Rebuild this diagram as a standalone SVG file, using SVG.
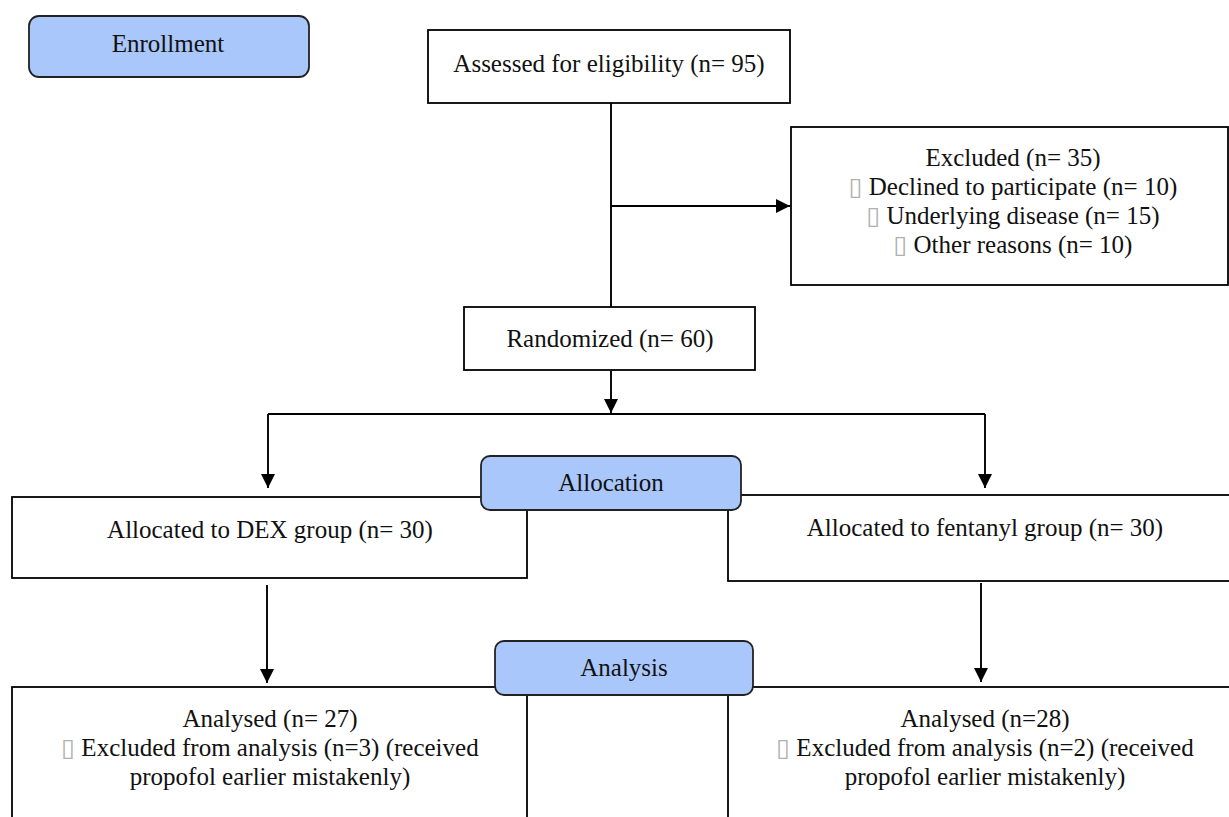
<svg xmlns="http://www.w3.org/2000/svg" width="1229" height="817" viewBox="0 0 1229 817">
<style>
.box{fill:#fff;stroke:#000;stroke-width:1.8}
.stage{fill:#a9c7fb;stroke:#222;stroke-width:1.8}
.t{font-family:"Liberation Serif","Times New Roman",serif;font-size:25px;fill:#111;text-anchor:middle}
.c{fill:none;stroke:#000;stroke-width:1.9}
.tofu{font-family:"DejaVu Sans",sans-serif;fill:#b0b0b0;font-size:25px}
</style>
<defs>
<marker id="ah" markerUnits="userSpaceOnUse" markerWidth="14" markerHeight="14" viewBox="0 0 14 14" refX="14" refY="7" orient="auto">
<path d="M0,0 L14,7 L0,14 Z" fill="#000"/>
</marker>
</defs>
<g id="connectors">
<path class="c" d="M611,103 V307"/>
<path class="c" d="M611,206 H790" marker-end="url(#ah)"/>
<path class="c" d="M611,371 V413" marker-end="url(#ah)"/>
<path class="c" d="M268,414 H985"/>
<path class="c" d="M268,414 V488" marker-end="url(#ah)"/>
<path class="c" d="M985,414 V488" marker-end="url(#ah)"/>
<path class="c" d="M267,585 V683" marker-end="url(#ah)"/>
<path class="c" d="M981,583 V682" marker-end="url(#ah)"/>
</g>
<g id="enrollment">
<rect class="stage" x="29" y="16" width="280" height="61" rx="10"/>
<text class="t" x="168" y="52">Enrollment</text>
</g>
<g id="assessed">
<rect class="box" x="428" y="30" width="362" height="73"/>
<text class="t" x="609" y="72">Assessed for eligibility (n= 95)</text>
</g>
<g id="excluded">
<rect class="box" x="791" y="127" width="437" height="158"/>
<text class="t" x="1013" y="166">Excluded (n= 35)</text>
<text class="t" x="1013" y="195"><tspan class="tofu">&#x25AF;</tspan> Declined to participate (n= 10)</text>
<text class="t" x="1013" y="224"><tspan class="tofu">&#x25AF;</tspan> Underlying disease (n= 15)</text>
<text class="t" x="1013" y="253"><tspan class="tofu">&#x25AF;</tspan> Other reasons (n= 10)</text>
</g>
<g id="randomized">
<rect class="box" x="464" y="307" width="291" height="63"/>
<text class="t" x="610" y="347">Randomized (n= 60)</text>
</g>
<g id="dex">
<rect class="box" x="12" y="497" width="515" height="81"/>
<text class="t" x="270" y="538">Allocated to DEX group (n= 30)</text>
</g>
<g id="fentanyl">
<rect class="box" x="728" y="495" width="510" height="86"/>
<text class="t" x="985" y="536">Allocated to fentanyl group (n= 30)</text>
</g>
<g id="allocation">
<rect class="stage" x="481" y="456" width="260" height="54" rx="9"/>
<text class="t" x="611" y="491">Allocation</text>
</g>
<g id="analysed-dex">
<rect class="box" x="12" y="687" width="515" height="140"/>
<text class="t" x="270" y="727">Analysed (n= 27)</text>
<text class="t" x="270" y="756"><tspan class="tofu">&#x25AF;</tspan> Excluded from analysis (n=3) (received</text>
<text class="t" x="270" y="785">propofol earlier mistakenly)</text>
</g>
<g id="analysed-fentanyl">
<rect class="box" x="728" y="687" width="510" height="140"/>
<text class="t" x="985" y="727">Analysed (n=28)</text>
<text class="t" x="985" y="756"><tspan class="tofu">&#x25AF;</tspan> Excluded from analysis (n=2) (received</text>
<text class="t" x="985" y="785">propofol earlier mistakenly)</text>
</g>
<g id="analysis">
<rect class="stage" x="495" y="641" width="258" height="54" rx="9"/>
<text class="t" x="624" y="676">Analysis</text>
</g>
</svg>
